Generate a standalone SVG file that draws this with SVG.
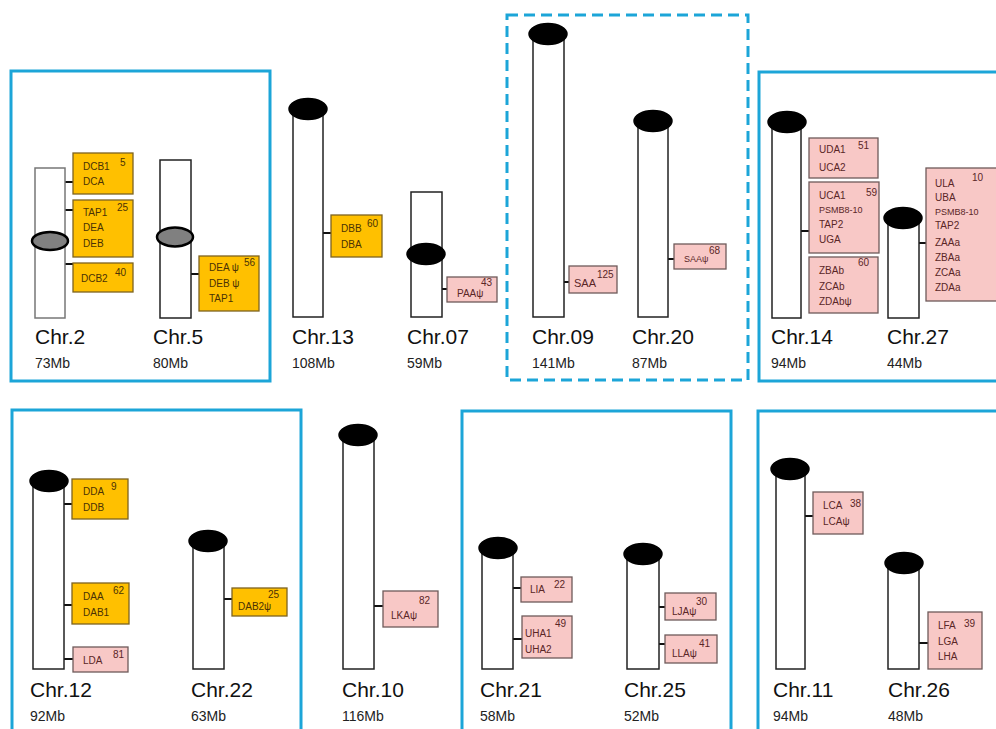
<svg xmlns="http://www.w3.org/2000/svg" width="996" height="729" viewBox="0 0 996 729">
<style>
.frame{fill:none;stroke:#1ca5d8;stroke-width:3}
.dash{stroke-dasharray:11 6}
.chr{fill:#fff;stroke:#222;stroke-width:1.5}
.cen{fill:#000;stroke:#000;stroke-width:1.5}
.cg{fill:#808080;stroke:#000;stroke-width:2.5}
.or{fill:#ffc000;stroke:#7d6320;stroke-width:1.3}
.pk{fill:#f8c8c6;stroke:#6e5a5a;stroke-width:1.3}
.t{font-family:"Liberation Sans",Arial,sans-serif}
.lab{font-size:21px;fill:#111}
.mb{font-size:14px;fill:#222}
.go{font-size:10px;fill:#4a3206}
.gp{font-size:10px;fill:#5a2626}
.s9{font-size:9px}
.s11{font-size:11px}
.con line{stroke:#111;stroke-width:2}
</style>
<rect width="996" height="729" fill="#fff"/>
<g id="frames">
<rect class="frame" x="11" y="71" width="259" height="310"/>
<rect class="frame dash" x="507" y="15" width="241" height="365"/>
<rect class="frame" x="759" y="72" width="250" height="309"/>
<rect class="frame" x="12" y="410" width="289" height="330"/>
<rect class="frame" x="462" y="411" width="269" height="330"/>
<rect class="frame" x="758" y="411" width="250" height="330"/>
</g>
<g id="connectors" class="con">
<line x1="65" y1="182" x2="73" y2="182"/>
<line x1="65" y1="210" x2="73" y2="210"/>
<line x1="65" y1="264" x2="73" y2="264"/>
<line x1="191" y1="274" x2="199" y2="274"/>
<line x1="323" y1="233" x2="331" y2="233"/>
<line x1="442" y1="289" x2="447" y2="289"/>
<line x1="564" y1="282" x2="569" y2="282"/>
<line x1="668" y1="259" x2="674" y2="259"/>
<line x1="801" y1="231" x2="809" y2="231"/>
<line x1="919" y1="243" x2="926" y2="243"/>
<line x1="64" y1="504" x2="72" y2="504"/>
<line x1="64" y1="605" x2="72" y2="605"/>
<line x1="64" y1="659" x2="73" y2="659"/>
<line x1="224" y1="599" x2="232" y2="599"/>
<line x1="374" y1="606" x2="383" y2="606"/>
<line x1="513" y1="588" x2="521" y2="588"/>
<line x1="513" y1="639" x2="522" y2="639"/>
<line x1="659" y1="607" x2="665" y2="607"/>
<line x1="659" y1="644" x2="665" y2="644"/>
<line x1="805" y1="516" x2="813" y2="516"/>
<line x1="919" y1="643" x2="928" y2="643"/>
</g>
<g id="chr2"><rect class="chr" style="stroke:#777" x="35" y="168" width="30" height="150"/><ellipse class="cg" cx="50" cy="241" rx="18" ry="9"/><text class="t lab" x="35" y="344">Chr.2</text><text class="t mb" x="35" y="368">73Mb</text></g>
<g id="chr5"><rect class="chr" x="160" y="160" width="31" height="158"/><ellipse class="cg" cx="175" cy="237" rx="18" ry="9.5"/><text class="t lab" x="153" y="344">Chr.5</text><text class="t mb" x="153" y="368">80Mb</text></g>
<g id="chr13"><rect class="chr" x="293" y="109" width="30" height="208"/><ellipse class="cen" cx="308" cy="109" rx="19" ry="10.5"/><text class="t lab" x="292" y="344">Chr.13</text><text class="t mb" x="292" y="368">108Mb</text></g>
<g id="chr07"><rect class="chr" x="411" y="192" width="31" height="125"/><ellipse class="cen" cx="426" cy="254" rx="19" ry="10.5"/><text class="t lab" x="407" y="344">Chr.07</text><text class="t mb" x="407" y="368">59Mb</text></g>
<g id="chr09"><rect class="chr" x="533" y="34" width="31" height="283"/><ellipse class="cen" cx="548" cy="34" rx="19" ry="10.5"/><text class="t lab" x="532" y="344">Chr.09</text><text class="t mb" x="532" y="368">141Mb</text></g>
<g id="chr20"><rect class="chr" x="638" y="121" width="30" height="196"/><ellipse class="cen" cx="653" cy="121" rx="19" ry="10.5"/><text class="t lab" x="632" y="344">Chr.20</text><text class="t mb" x="632" y="368">87Mb</text></g>
<g id="chr14"><rect class="chr" x="772" y="122" width="29" height="196"/><ellipse class="cen" cx="787" cy="122" rx="19" ry="10.5"/><text class="t lab" x="771" y="344">Chr.14</text><text class="t mb" x="771" y="368">94Mb</text></g>
<g id="chr27"><rect class="chr" x="888" y="218" width="31" height="100"/><ellipse class="cen" cx="903" cy="218" rx="19" ry="10.5"/><text class="t lab" x="887" y="344">Chr.27</text><text class="t mb" x="887" y="368">44Mb</text></g>
<g id="chr12"><rect class="chr" x="33" y="481" width="31" height="188"/><ellipse class="cen" cx="49" cy="481" rx="19" ry="10.5"/><text class="t lab" x="30" y="697">Chr.12</text><text class="t mb" x="30" y="721">92Mb</text></g>
<g id="chr22"><rect class="chr" x="193" y="541" width="31" height="128"/><ellipse class="cen" cx="208" cy="541" rx="19" ry="10.5"/><text class="t lab" x="191" y="697">Chr.22</text><text class="t mb" x="191" y="721">63Mb</text></g>
<g id="chr10"><rect class="chr" x="343" y="435" width="31" height="234"/><ellipse class="cen" cx="358" cy="435" rx="19" ry="10.5"/><text class="t lab" x="342" y="697">Chr.10</text><text class="t mb" x="342" y="721">116Mb</text></g>
<g id="chr21"><rect class="chr" x="482" y="548" width="31" height="121"/><ellipse class="cen" cx="498" cy="548" rx="19" ry="10.5"/><text class="t lab" x="480" y="697">Chr.21</text><text class="t mb" x="480" y="721">58Mb</text></g>
<g id="chr25"><rect class="chr" x="627" y="554" width="32" height="115"/><ellipse class="cen" cx="643" cy="554" rx="19" ry="10.5"/><text class="t lab" x="624" y="697">Chr.25</text><text class="t mb" x="624" y="721">52Mb</text></g>
<g id="chr11"><rect class="chr" x="776" y="469" width="29" height="200"/><ellipse class="cen" cx="790" cy="469" rx="19" ry="10.5"/><text class="t lab" x="773" y="697">Chr.11</text><text class="t mb" x="773" y="721">94Mb</text></g>
<g id="chr26"><rect class="chr" x="888" y="563" width="31" height="106"/><ellipse class="cen" cx="904" cy="563" rx="19" ry="10.5"/><text class="t lab" x="888" y="697">Chr.26</text><text class="t mb" x="888" y="721">48Mb</text></g>
<g id="g-dcb1"><rect class="or" x="73" y="153" width="60" height="41"/><text class="t go" x="83" y="169.5">DCB1</text><text class="t go" x="83" y="185">DCA</text><text class="t go" x="120" y="166">5</text></g>
<g id="g-tap1"><rect class="or" x="73" y="200" width="60" height="57"/><text class="t go" x="83" y="215.5">TAP1</text><text class="t go" x="83" y="231">DEA</text><text class="t go" x="83" y="246.5">DEB</text><text class="t go" x="117" y="211">25</text></g>
<g id="g-dcb2"><rect class="or" x="73" y="263" width="60" height="29"/><text class="t go" x="81" y="281.5">DCB2</text><text class="t go" x="115" y="275.5">40</text></g>
<g id="g-dea"><rect class="or" x="199" y="256" width="60" height="55"/><text class="t go" x="209" y="270.5">DEA ψ</text><text class="t go" x="209" y="286.5">DEB ψ</text><text class="t go" x="209" y="301.5">TAP1</text><text class="t go" x="244" y="265.5">56</text></g>
<g id="g-dbb"><rect class="or" x="331" y="215" width="51" height="42"/><text class="t go" x="341" y="231.5">DBB</text><text class="t go" x="341" y="247.5">DBA</text><text class="t go" x="367" y="226.5">60</text></g>
<g id="g-paa"><rect class="pk" x="447" y="277" width="50" height="25"/><text class="t gp" x="457" y="296.5">PAAψ</text><text class="t gp" x="481" y="285.5">43</text></g>
<g id="g-saa"><rect class="pk" x="569" y="266" width="48" height="27"/><text class="t gp s11" x="574" y="287">SAA</text><text class="t gp" x="597" y="277.5">125</text></g>
<g id="g-saap"><rect class="pk" x="674" y="244" width="52" height="25"/><text class="t gp s9" x="684" y="261.5">SAAψ</text><text class="t gp" x="709" y="253.5">68</text></g>
<g id="g-uda1"><rect class="pk" x="809" y="138" width="69" height="40"/><text class="t gp" x="819" y="152.5">UDA1</text><text class="t gp" x="819" y="170.5">UCA2</text><text class="t gp" x="858" y="148.5">51</text></g>
<g id="g-uca1"><rect class="pk" x="809" y="182" width="70" height="71"/><text class="t gp" x="819" y="198.5">UCA1</text><text class="t gp s9" x="819" y="212.5">PSMB8-10</text><text class="t gp" x="819" y="227.5">TAP2</text><text class="t gp" x="819" y="242.5">UGA</text><text class="t gp" x="866" y="195.5">59</text></g>
<g id="g-zbab"><rect class="pk" x="809" y="257" width="69" height="56"/><text class="t gp" x="819" y="273.5">ZBAb</text><text class="t gp" x="819" y="289.5">ZCAb</text><text class="t gp" x="819" y="304.5">ZDAbψ</text><text class="t gp" x="858" y="265.5">60</text></g>
<g id="g-ula"><rect class="pk" x="926" y="168" width="75" height="133"/><text class="t gp" x="935" y="186.5">ULA</text><text class="t gp" x="935" y="200.5">UBA</text><text class="t gp s9" x="935" y="214.5">PSMB8-10</text><text class="t gp" x="935" y="228.5">TAP2</text><text class="t gp" x="935" y="245.5">ZAAa</text><text class="t gp" x="935" y="260.5">ZBAa</text><text class="t gp" x="935" y="275.5">ZCAa</text><text class="t gp" x="935" y="290.5">ZDAa</text><text class="t gp" x="972" y="180.5">10</text></g>
<g id="g-dda"><rect class="or" x="72" y="479" width="56" height="40"/><text class="t go" x="83" y="494.5">DDA</text><text class="t go" x="83" y="510.5">DDB</text><text class="t go" x="111" y="489.5">9</text></g>
<g id="g-daa"><rect class="or" x="72" y="583" width="57" height="41"/><text class="t go" x="83" y="599.5">DAA</text><text class="t go" x="83" y="615.5">DAB1</text><text class="t go" x="113" y="593.5">62</text></g>
<g id="g-lda"><rect class="pk" x="73" y="647" width="55" height="25"/><text class="t gp" x="83" y="663.5">LDA</text><text class="t gp" x="113" y="657.5">81</text></g>
<g id="g-dab2"><rect class="or" x="232" y="588" width="55" height="28"/><text class="t go" x="238" y="609.5">DAB2ψ</text><text class="t go" x="268" y="597.5">25</text></g>
<g id="g-lka"><rect class="pk" x="383" y="591" width="55" height="36"/><text class="t gp" x="391" y="618.5">LKAψ</text><text class="t gp" x="419" y="603.5">82</text></g>
<g id="g-lia"><rect class="pk" x="521" y="577" width="51" height="25"/><text class="t gp" x="530" y="592.5">LIA</text><text class="t gp" x="554" y="587.5">22</text></g>
<g id="g-uha"><rect class="pk" x="522" y="616" width="50" height="42"/><text class="t gp" x="525" y="636.5">UHA1</text><text class="t gp" x="525" y="652.5">UHA2</text><text class="t gp" x="555" y="626.5">49</text></g>
<g id="g-lja"><rect class="pk" x="665" y="593" width="51" height="27"/><text class="t gp" x="672" y="614.5">LJAψ</text><text class="t gp" x="696" y="604.5">30</text></g>
<g id="g-lla"><rect class="pk" x="665" y="635" width="52" height="28"/><text class="t gp" x="672" y="656.5">LLAψ</text><text class="t gp" x="699" y="646.5">41</text></g>
<g id="g-lca"><rect class="pk" x="813" y="492" width="50" height="42"/><text class="t gp" x="823" y="508.5">LCA</text><text class="t gp" x="823" y="524.5">LCAψ</text><text class="t gp" x="850" y="506.5">38</text></g>
<g id="g-lfa"><rect class="pk" x="928" y="612" width="54" height="57"/><text class="t gp" x="938" y="628.5">LFA</text><text class="t gp" x="938" y="644.5">LGA</text><text class="t gp" x="938" y="659.5">LHA</text><text class="t gp" x="964" y="626.5">39</text></g>
</svg>
